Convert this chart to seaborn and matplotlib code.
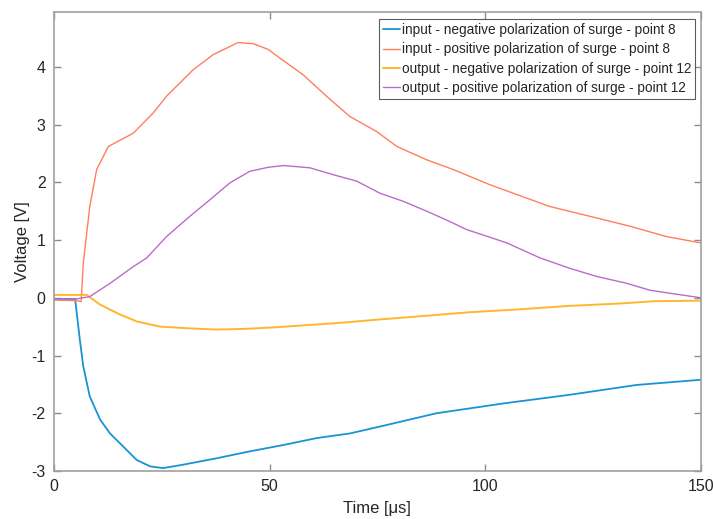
import numpy as np
import pandas as pd
import matplotlib
matplotlib.use("Agg")
import matplotlib.pyplot as plt
import seaborn as sns

# input - negative polarization (point 8)
t_in_neg = [0, 4.9, 6.0, 6.8, 8.3, 10.7, 13.0, 16.1, 19.2, 22.3, 25.3, 30.0, 37.7, 45.4,
            53.2, 60.9, 68.6, 75.6, 88.7, 104.2, 119.6, 135.1, 150]
v_in_neg = [-0.02, -0.02, -0.73, -1.19, -1.71, -2.11, -2.35, -2.58, -2.81, -2.92, -2.95, -2.89,
            -2.78, -2.66, -2.55, -2.43, -2.35, -2.23, -2.00, -1.83, -1.68, -1.51, -1.42]

# input - positive polarization (point 8)
t_in_pos = [0, 5.5, 6.3, 6.8, 8.3, 9.9, 12.6, 18.4, 23.0, 26.1, 32.3, 36.9, 42.7, 46.2, 49.7,
            52.4, 57.8, 63.2, 68.6, 74.8, 79.5, 86.4, 92.6, 101.0, 106.5, 115.0, 124.3, 133.5,
            142.0, 150]
v_in_pos = [-0.04, -0.05, -0.07, 0.6, 1.58, 2.22, 2.62, 2.85, 3.2, 3.49, 3.95, 4.21, 4.42, 4.40,
            4.30, 4.15, 3.86, 3.49, 3.14, 2.88, 2.62, 2.39, 2.22, 1.96, 1.81, 1.58, 1.41, 1.24,
            1.06, 0.95]

# output - negative polarization (point 12)
t_out_neg = [0, 7.6, 10.7, 15.3, 19.2, 24.6, 31.5, 37.7, 43.9, 51.6, 59.4, 67.1, 74.8, 84.9,
             96.5, 108.0, 119.6, 131.2, 139.0, 150]
v_out_neg = [0.05, 0.05, -0.12, -0.29, -0.41, -0.50, -0.53, -0.55, -0.54, -0.51, -0.47, -0.43,
             -0.38, -0.32, -0.25, -0.20, -0.14, -0.10, -0.06, -0.05]

# output - positive polarization (point 12)
t_out_pos = [0, 5.3, 8.3, 13.0, 18.4, 21.5, 26.1, 31.5, 36.2, 40.8, 45.4, 49.7, 53.2, 59.4,
             64.8, 70.2, 75.6, 81.0, 86.4, 91.8, 95.7, 101.0, 105.0, 112.7, 119.6, 125.8, 132.8,
             138.2, 143.6, 150]
v_out_pos = [-0.02, -0.02, 0.02, 0.25, 0.54, 0.69, 1.06, 1.41, 1.70, 1.99, 2.19, 2.26, 2.29, 2.25,
             2.13, 2.02, 1.81, 1.67, 1.50, 1.32, 1.18, 1.05, 0.95, 0.69, 0.51, 0.37, 0.25, 0.13,
             0.07, 0.0]

series = [
    ("input - negative polarization of surge - point 8", t_in_neg, v_in_neg, "#1a93d3", 1.3),
    ("input - positive polarization of surge - point 8", t_in_pos, v_in_pos, "#ff7f5c", 1.0),
    ("output - negative polarization of surge - point 12", t_out_neg, v_out_neg, "#ffb62e", 1.4),
    ("output - positive polarization of surge - point 12", t_out_pos, v_out_pos, "#b96dc9", 1.0),
]

sns.set_theme(style="white")
plt.rcParams['font.family'] = ['Liberation Sans', 'DejaVu Sans']
plt.rcParams['axes.unicode_minus'] = False

fig = plt.figure(figsize=(7.13, 5.19), dpi=100)
ax = fig.add_axes([0.0757, 0.0925, 0.9073, 0.8845])

for name, t, v, col, lw in series:
    sns.lineplot(x=t, y=v, ax=ax, color=col, lw=lw, label=name)

ax.set_xlim(0, 150)
ax.set_ylim(-3, 4.95)
ax.set_xticks([0, 50, 100, 150])
ax.set_yticks([-3, -2, -1, 0, 1, 2, 3, 4])
ax.set_xlabel("Time [μs]", fontsize=12, color="#262626", labelpad=5)
ax.set_ylabel("Voltage [V]", fontsize=12, color="#262626", labelpad=1)
ax.tick_params(axis="both", direction="in", length=5, width=1, color="#8c8c8c",
               labelsize=11.5, labelcolor="#262626", top=True, right=True,
               bottom=True, left=True, pad=6)
for s in ax.spines.values():
    s.set_color("#a0a0a0")
    s.set_linewidth(1.2)

leg = ax.legend(loc="upper right", bbox_to_anchor=(0.9915, 0.985), fontsize=9.8,
                frameon=True, fancybox=False, handlelength=1.2, handletextpad=0.15,
                borderpad=0.32, labelspacing=0.38, borderaxespad=0)
leg.get_frame().set_edgecolor("#333333")
leg.get_frame().set_linewidth(0.8)

plt.savefig("out.png", dpi=100)
